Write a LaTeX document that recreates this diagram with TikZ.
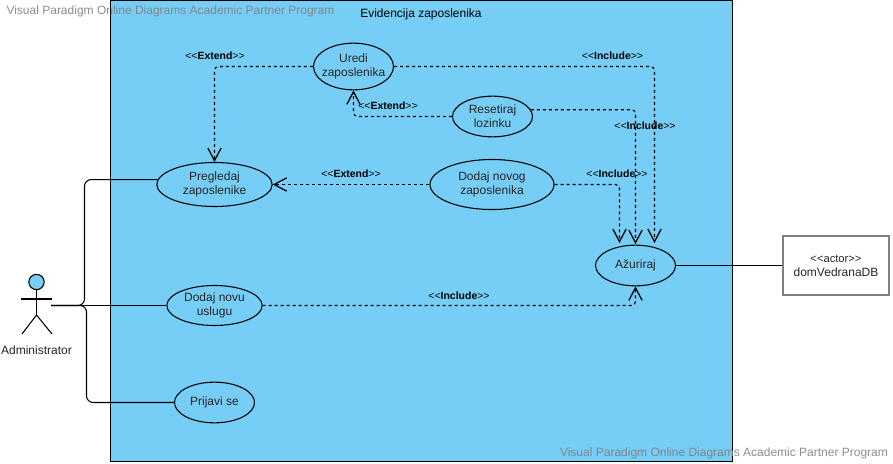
\documentclass[tikz,border=0pt]{standalone}
\usepackage{fontspec}
\setmainfont{Liberation Sans}
\usetikzlibrary{arrows.meta,%
                shapes.geometric,positioning}
\definecolor{sysblue}{HTML}{76CDF5}
\definecolor{wmgray}{HTML}{808080}
\tikzset{
  usecase/.style={ellipse,draw=black,line width=0.8pt,inner sep=-8pt,align=center,text=black!85,
    font=\fontsize{9}{10.5}\selectfont},
  assoc/.style={line width=0.8pt,rounded corners=5pt},
  dep/.style={line width=0.8pt,rounded corners=3pt,dash pattern=on 2.25pt off 2.25pt,
    -{Straight Barb[length=9.5pt,width=10pt,line width=0.95pt]}},
  deplabel/.style={inner sep=0pt,font=\fontsize{7.85}{9}\selectfont},
  watermark/.style={inner sep=0pt,text=wmgray,text opacity=0.9,font=\fontsize{9}{11}\selectfont}
}
\newcommand{\stereo}[1]{{<}{<}\textbf{#1}{>}{>}}
\begin{document}
\begin{tikzpicture}[x=0.75pt,y=-0.75pt]
\useasboundingbox (0,0) rectangle (893,464);
\node[draw=black,line width=1pt,fill=sysblue,minimum width=466.5pt,minimum height=345.5pt,inner sep=0pt] (system) at (421.5,231) {};
\node[inner sep=0pt,font=\fontsize{9}{11}\selectfont] (systitle) at (421,14.5) {Evidencija zaposlenika};
\node[usecase,minimum width=60pt,minimum height=35pt] (uredi) at (353.5,66.5) {Uredi\\zaposlenika};
\node[usecase,minimum width=60pt,minimum height=30.5pt] (resetiraj) at (492.5,116.5) {Resetiraj\\lozinku};
\node[usecase,minimum width=86.5pt,minimum height=33pt] (pregledaj) at (214.5,184.5) {Pregledaj\\zaposlenike};
\node[usecase,minimum width=93pt,minimum height=37.5pt] (dodajzap) at (492,184.5) {Dodaj novog\\zaposlenika};
\node[usecase,minimum width=60pt,minimum height=30.5pt] (azuriraj) at (635.5,265.5) {Ažuriraj};
\node[usecase,minimum width=71.5pt,minimum height=30pt] (dodajusl) at (214.5,305.5) {Dodaj novu\\uslugu};
\node[usecase,minimum width=60pt,minimum height=30.5pt] (prijava) at (214.5,402.5) {Prijavi se};
\node[draw=wmgray,line width=1.5pt,fill=white,minimum width=79.5pt,minimum height=44pt,inner sep=0pt,align=center,text=black!85,font=\fontsize{9}{10.5}\selectfont] (db) at (836,265.5) {{\fontsize{8.4}{10.5}\selectfont <{}<actor>{}>}\\domVedranaDB};
% actor
\node[circle,draw=black,line width=0.8pt,fill=sysblue,minimum size=11.5pt,inner sep=0pt] (head) at (36.5,282) {};
\coordinate (hip) at (36.5,315);
\coordinate (armL) at (21,299);
\coordinate (armR) at (52,299);
\coordinate (legL) at (22,334);
\coordinate (legR) at (52,334);
\coordinate (admin) at (51,305.5);
\draw[line width=0.8pt] (head) -- (hip);
\draw[line width=0.8pt] (armL) -- (armR);
\draw[line width=0.8pt] (legL) -- (hip) -- (legR);
\node[inner sep=0pt,text=black!85,font=\fontsize{9}{11}\selectfont] (adminname) at (36.5,350) {Administrator};
% associations
\coordinate (busa) at (84.5,305.5);
\coordinate (busb) at (86.5,305.5);
\draw[assoc] (admin) -- (busa) |- (pregledaj.175);
\draw[assoc] (admin) -- (dodajusl);
\draw[assoc] (admin) -- (busb) |- (prijava);
\draw[assoc] (azuriraj) -- (db);
% dependencies
\coordinate (ina) at (619.5,243);
\coordinate (inb) at (635.5,244);
\coordinate (inc) at (654.5,243);
\draw[dep] (uredi) -| (pregledaj);
\draw[dep] (resetiraj) -| (uredi);
\draw[dep] (dodajzap) -- (pregledaj);
\draw[dep] (uredi) -| (inc);
\draw[dep] (resetiraj.10) -| (inb);
\draw[dep] (dodajzap) -| (ina);
\draw[dep] (dodajusl) -| (azuriraj);
% labels
\node[deplabel] (lbla) at (215,56) {\stereo{Extend}};
\node[deplabel] (lblb) at (388,106) {\stereo{Extend}};
\node[deplabel] (lblc) at (351,174) {\stereo{Extend}};
\node[deplabel] (lbld) at (612.5,56) {\stereo{Include}};
\node[deplabel] (lble) at (645,126) {\stereo{Include}};
\node[deplabel] (lblf) at (617,174) {\stereo{Include}};
\node[deplabel] (lblg) at (459,295.5) {\stereo{Include}};
% watermarks
\node[watermark] (wma) at (170.5,11) {Visual Paradigm Online Diagrams Academic Partner Program};
\node[watermark] (wmb) at (724,453) {Visual Paradigm Online Diagrams Academic Partner Program};
\end{tikzpicture}
\end{document}
